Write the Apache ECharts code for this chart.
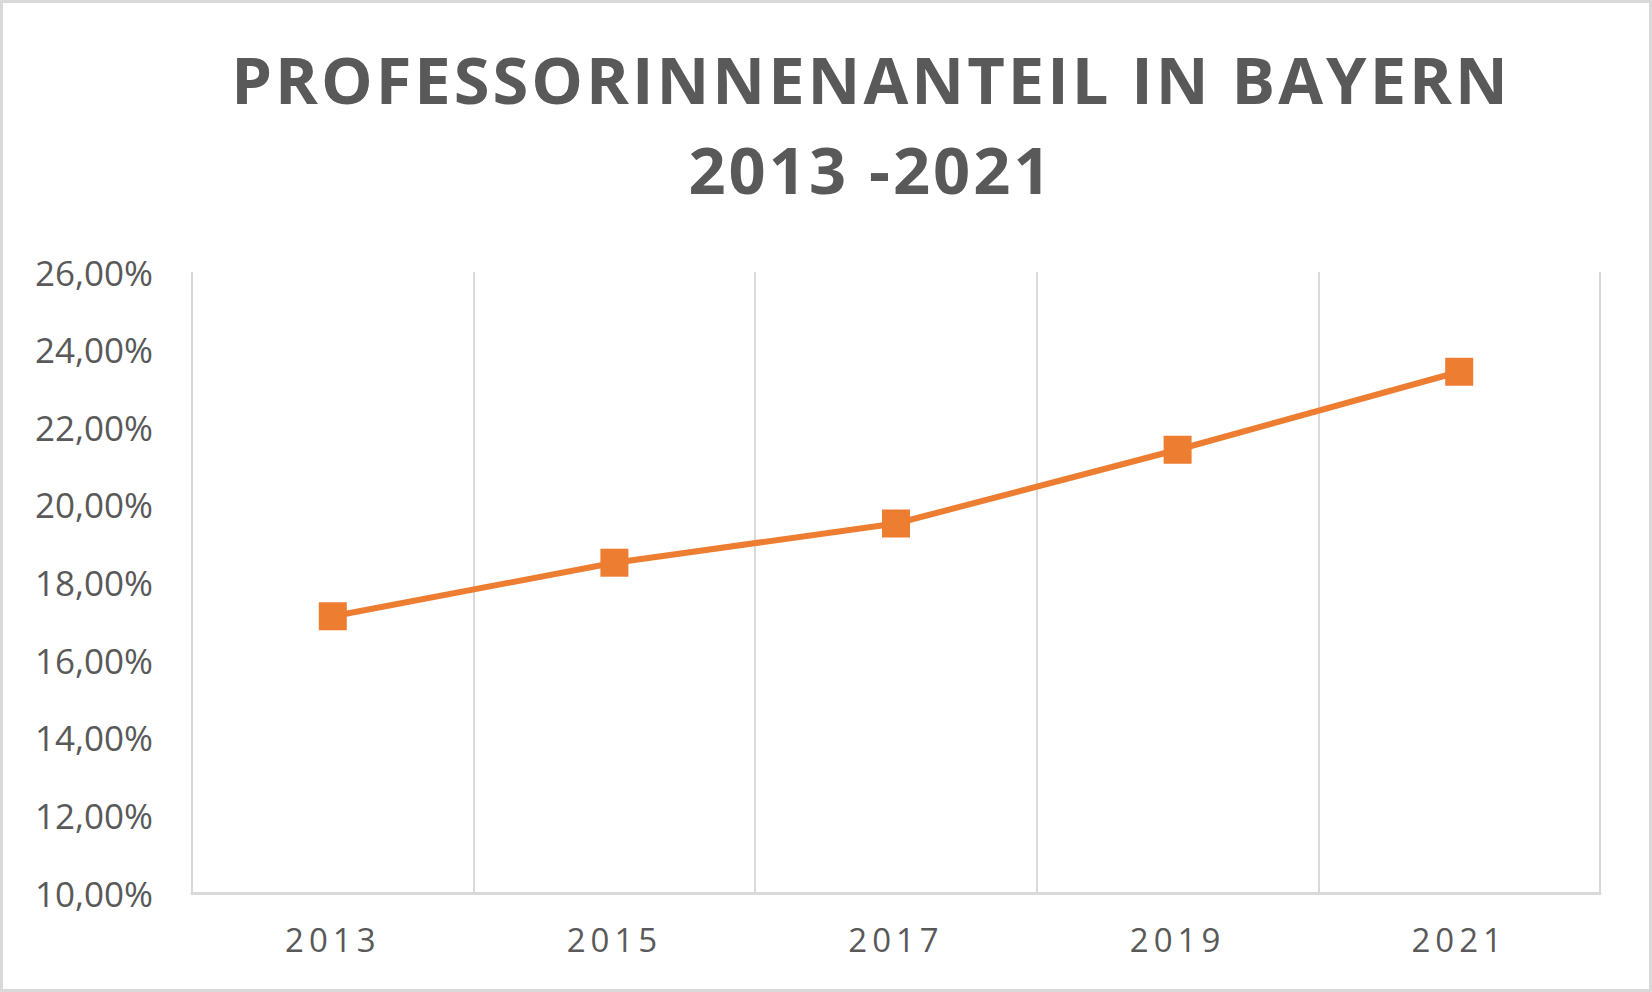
<!DOCTYPE html>
<html>
<head>
<meta charset="utf-8">
<script src="https://cdn.jsdelivr.net/npm/echarts@6/dist/echarts.min.js"></script>
<style>
html,body{margin:0;padding:0;background:#fff;}
#chart{width:1652px;height:992px;}
#chart text[style*="bold"]{letter-spacing:3px;}
#chart text[style*="33px"]{letter-spacing:5px;}
</style>
</head>
<body>
<div id="chart"></div>
<script>
var titleLines = ['PROFESSORINNENANTEIL IN BAYERN', '2013 -2021'];
var years = ['2013', '2015', '2017', '2019', '2021'];
var shares = [17.13, 18.51, 19.52, 21.42, 23.43];
var yMin = 10, yMax = 26, yStep = 2;

var chart = echarts.init(document.getElementById('chart'), null, {renderer: 'svg'});
var grey = '#595959';
chart.setOption({
  backgroundColor: '#fff',
  animation: false,
  title: {
    text: titleLines.join('\n'),
    left: 866,
    top: 29,
    textAlign: 'center',
    textStyle: {
      fontFamily: 'Open Sans',
      fontWeight: 'bold',
      fontSize: 65,
      lineHeight: 90,
      color: grey
    }
  },
  graphic: [{
    type: 'rect',
    shape: {x: 1.5, y: 1.5, width: 1649, height: 989},
    style: {fill: 'none', stroke: '#d9d9d9', lineWidth: 3},
    silent: true,
    z: 100
  }],
  grid: {left: 192, right: 52, top: 272, bottom: 99},
  xAxis: {
    type: 'category',
    data: years,
    boundaryGap: true,
    axisLine: {show: true, lineStyle: {color: '#d9d9d9', width: 3}},
    axisTick: {show: false},
    splitLine: {show: true, lineStyle: {color: '#d9d9d9', width: 2}},
    axisLabel: {
      margin: 30,
      fontFamily: 'Open Sans',
      fontSize: 33,
      color: grey
    }
  },
  yAxis: {
    type: 'value',
    min: yMin,
    max: yMax,
    interval: yStep,
    axisLine: {show: false},
    axisTick: {show: false},
    splitLine: {show: false},
    axisLabel: {
      margin: 39,
      fontFamily: 'Open Sans',
      fontSize: 35,
      color: grey,
      padding: [0, 0, 5, 0],
      formatter: function (v) { return v.toFixed(2).replace('.', ',') + '%'; }
    }
  },
  series: [{
    type: 'line',
    data: shares,
    symbol: 'rect',
    symbolSize: 28,
    lineStyle: {color: '#ED7D31', width: 6},
    itemStyle: {color: '#ED7D31'}
  }]
});
</script>
</body>
</html>
